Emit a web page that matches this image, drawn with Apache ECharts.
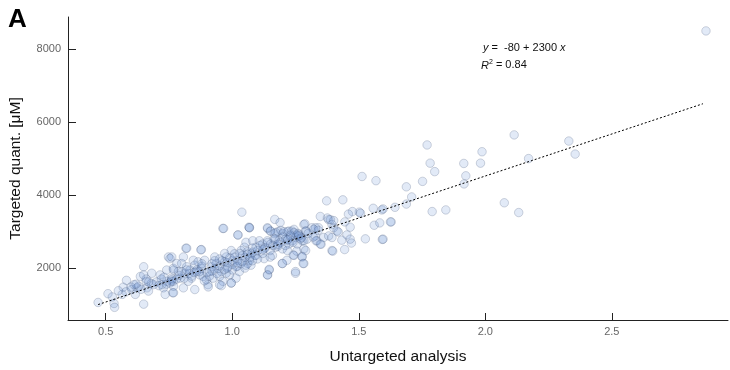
<!DOCTYPE html>
<html>
<head>
<meta charset="utf-8">
<script src="https://cdn.jsdelivr.net/npm/echarts@6/dist/echarts.min.js"></script>
<style>
  html, body { margin: 0; padding: 0; background: #fff; }
  #chart { width: 730px; height: 370px; }
</style>
</head>
<body>
<div id="chart"></div>
<script>
// untargeted analysis (x) vs targeted quant. in uM (y)
const untargeted = [
  0.470, 0.509, 0.533, 0.535, 0.526, 0.650, 0.565, 0.569, 0.582, 0.603, 0.612, 0.617, 0.624, 0.630,
  0.650, 0.637, 0.650, 0.660, 0.663, 0.669, 0.682, 0.689, 0.715, 0.722, 0.728, 0.735, 0.741, 0.748,
  0.754, 0.761, 0.767, 0.767, 0.741, 0.765, 0.817, 0.878, 0.761, 0.781, 0.768, 0.761, 0.754, 0.768,
  0.807, 0.800, 0.820, 0.813, 0.833, 0.846, 0.852, 0.839, 0.859, 0.872, 0.878, 0.885, 0.898, 0.911,
  0.918, 0.931, 0.937, 0.944, 0.950, 0.957, 0.963, 0.970, 0.976, 0.983, 0.989, 0.996, 1.002, 1.009,
  1.015, 1.022, 1.028, 1.035, 1.041, 1.048, 1.054, 1.061, 1.068, 1.074, 1.081, 1.054, 0.904, 0.950,
  0.996, 0.852, 0.807, 0.768, 0.787, 0.794, 0.826, 0.865, 0.891, 0.924, 0.976, 1.015, 1.035, 1.074,
  0.963, 1.023, 1.068, 1.038, 0.966, 1.066, 1.022, 1.168, 1.189, 1.140, 1.150, 1.166, 1.181, 1.200,
  1.218, 1.236, 0.876, 0.820, 1.068, 1.139, 1.152, 1.172, 1.192, 1.204, 1.224, 1.244, 1.263, 1.283,
  1.289, 1.315, 1.341, 1.381, 1.394, 1.400, 1.081, 1.094, 1.107, 1.120, 1.126, 1.139, 1.152, 1.165,
  1.172, 1.185, 1.198, 1.211, 1.224, 1.237, 1.250, 1.263, 1.276, 1.283, 1.296, 1.328, 1.335, 1.348,
  1.361, 1.381, 1.394, 1.094, 1.126, 1.159, 1.198, 1.244, 1.276, 1.283, 1.146, 1.139, 1.250, 1.394,
  1.140, 1.146, 1.198, 0.905, 0.957, 0.996,
  1.513, 1.568, 1.373, 1.437, 1.348, 1.557, 1.591, 1.502, 1.507, 1.475, 1.459, 1.561, 1.583, 1.625,
  1.526, 1.593, 1.376, 1.388, 1.401, 1.445, 1.466, 1.453, 1.466, 1.471, 1.433, 1.444, 1.397, 1.414,
  1.419, 1.351, 1.331, 1.329, 1.322, 1.340, 1.287, 1.292, 1.283, 1.273, 1.264, 1.255, 1.244, 1.231,
  1.218, 1.257, 1.255, 1.290, 1.241, 1.276, 1.280, 1.250, 1.218, 1.216,
  1.770, 2.114, 2.330, 2.355, 1.987, 1.981, 1.915, 1.923, 1.916, 2.171, 1.782, 1.800, 1.752, 1.688,
  1.709, 1.688, 1.643, 1.790, 1.844, 2.075, 2.132, 1.628, 1.596, 1.596, 2.872,
  0.86, 0.88, 0.90, 0.92, 0.93, 0.95, 0.96, 0.97, 0.98, 0.99, 1.00, 1.01, 1.02, 1.03, 1.04, 1.05,
  1.06, 1.07, 1.08, 1.09, 1.10, 1.11, 1.12, 1.13, 1.14, 1.15, 1.16, 1.17, 1.18, 1.19, 1.20, 1.21,
  1.22, 1.23, 1.24, 1.26, 1.27, 1.30, 1.32, 0.79, 0.81, 0.83, 0.84, 0.70, 0.72, 0.74, 0.68, 0.66,
  0.89, 0.91, 0.94, 0.87, 1.00, 1.05, 1.10, 1.15, 0.58, 0.60, 0.64, 0.55,
  0.73, 0.76, 0.78, 0.80, 0.82, 0.85, 0.88, 0.92, 0.95, 0.98, 1.02, 1.06, 1.08, 1.12, 1.18, 0.62,
  0.67, 0.71, 0.93, 0.97
];
const targeted = [
  1059, 1299, 1032, 925, 1211, 1013, 1280, 1477, 1664, 1413, 1547, 1280, 1459, 1504,
  2037, 1771, 1813, 1637, 1459, 1371, 1859, 1547, 1813, 1547, 1459, 1280, 1637, 2304,
  2259, 1725, 1637, 1992, 1947, 1325, 2544, 2507, 2304, 2125, 1947, 1680, 1592, 1325,
  2304, 2125, 2037, 1859, 1947, 2213, 2080, 1725, 1904, 1813, 1992, 1771, 1680, 1904,
  2037, 2304, 2125, 1992, 1771, 1904, 1637, 2171, 2304, 2037, 1813, 2480, 2213, 2392,
  2037, 2213, 1904, 2480, 2347, 2571, 2704, 2125, 2213, 2392, 2437, 2080, 1547, 1547,
  1592, 1413, 1459, 1504, 1904, 1725, 1637, 2171, 2213, 1725, 1859, 1725, 2125, 2080,
  3085, 2907, 3104, 3531, 3085, 3120, 2907, 3333, 3245, 3085, 3013, 2944, 2997, 2944,
  2997, 3013, 2499, 2544, 3104, 3104, 3013, 2971, 3032, 2997, 3013, 3059, 2925, 3192,
  3013, 3104, 3104, 3325, 3192, 3104, 2747, 2571, 2747, 2659, 2525, 2747, 2659, 2792,
  2571, 2747, 2525, 2792, 2659, 2747, 2837, 2880, 2747, 2525, 2792, 2880, 2747, 2659,
  2837, 2880, 2837, 2347, 2259, 2347, 2125, 2347, 2304, 2125, 1947, 1813, 1859, 2480,
  1813, 1965, 2125, 1485, 1520, 1592,
  4507, 4392, 3840, 3867, 3413, 3637, 3592, 3531, 3500, 3547, 3477, 3173, 3237, 3264,
  2800, 2784, 3371, 3325, 3299, 3264, 3120, 2907, 2792, 2685, 2765, 2507, 2464, 3013,
  2987, 2651, 2747, 3104, 3059, 3032, 3211, 3013, 2747, 2837, 2880, 2899, 2971, 2853,
  2765, 2659, 2464, 2480, 2357, 2320, 2125, 1904, 2480, 2213,
  5370, 5645, 5477, 5120, 5184, 4872, 4864, 4525, 4304, 4997, 4872, 4640, 4373, 4224,
  3947, 3752, 3664, 3547, 3592, 3787, 3520, 3264, 2792, 3619, 8491,
  1950, 2050, 1880, 2120, 1980, 2060, 2200, 1960, 2150, 2280, 2100, 2300, 2050, 2400, 2180, 2290,
  2450, 2300, 2550, 2350, 2480, 2620, 2400, 2560, 2700, 2480, 2620, 2800, 2600, 2700, 2850, 2620,
  2780, 2900, 2700, 2950, 2800, 2950, 2850, 1800, 1720, 1850, 1780, 1620, 1700, 1560, 1580, 1700,
  1650, 1780, 1850, 1900, 1950, 2000, 2250, 2300, 1350, 1480, 1420, 1380,
  1750, 1640, 1700, 1900, 1950, 1880, 2120, 1920, 2250, 2000, 2150, 2380, 2200, 2500, 2650, 1560,
  1620, 1520, 2200, 2400
];

// linear fit shown on the figure
const fitIntercept = -80;
const fitSlope = 2300;
const fitRange = [0.47, 2.86];
const xTicks = [0.5, 1.0, 1.5, 2.0, 2.5];
const yTicks = [2000, 4000, 6000, 8000];

const points = untargeted.map((x, i) => [x, targeted[i]]);
const fitLine = fitRange.map(x => [x, fitIntercept + fitSlope * x]);

let myChart = echarts.init(document.getElementById('chart'));
let option = {
    animation: false,
    backgroundColor: '#fff',
    grid: { left: 62, right: 2, top: 17, bottom: 42 },
    xAxis: {
        type: 'value',
        min: 0.351,
        max: 2.959,
        name: 'Untargeted analysis',
        nameLocation: 'middle',
        nameGap: 29,
        nameTextStyle: { color: '#111', fontSize: 15.5, fontFamily: 'Liberation Sans' },
        axisLine: { show: true, lineStyle: { color: '#222', width: 1 } },
        axisTick: { show: true, inside: true, length: 7, lineStyle: { color: '#222', width: 1 }, customValues: xTicks },
        axisLabel: {
            color: '#666', fontSize: 11, fontFamily: 'Liberation Sans', margin: 6,
            customValues: xTicks,
            formatter: v => v.toFixed(1)
        },
        splitLine: { show: false }
    },
    yAxis: {
        type: 'value',
        min: 579,
        max: 8872,
        name: 'Targeted quant. [μM]',
        nameLocation: 'middle',
        nameGap: 44,
        nameTextStyle: { color: '#111', fontSize: 15.5, fontFamily: 'Liberation Sans' },
        axisLine: { show: true, lineStyle: { color: '#222', width: 1 } },
        axisTick: { show: true, inside: true, length: 8, lineStyle: { color: '#222', width: 1 }, customValues: yTicks },
        axisLabel: {
            color: '#666', fontSize: 11, fontFamily: 'Liberation Sans', margin: 7,
            customValues: yTicks,
            formatter: v => String(v)
        },
        splitLine: { show: false }
    },
    graphic: [
        {
            type: 'text', left: 8, top: 7,
            style: { text: 'A', fontSize: 26, fontWeight: 'bold', fill: '#000', fontFamily: 'Liberation Sans' }
        },
        {
            type: 'text', left: 483, top: 42,
            style: {
                text: '{i|y} =  -80 + 2300 {i|x}',
                fontSize: 11, fill: '#111', fontFamily: 'Liberation Sans',
                rich: { i: { fontStyle: 'italic', fontSize: 11, fontFamily: 'Liberation Sans' } }
            }
        },
        {
            type: 'text', left: 481, top: 59,
            style: {
                text: '{i|R}{s|2} = 0.84',
                fontSize: 11, fill: '#111', fontFamily: 'Liberation Sans',
                rich: {
                    i: { fontStyle: 'italic', fontSize: 11, fontFamily: 'Liberation Sans', verticalAlign: 'bottom' },
                    s: { fontSize: 7, fontFamily: 'Liberation Sans', verticalAlign: 'top', padding: [0, 0, 5, 0] }
                }
            }
        }
    ],
    series: [
        {
            type: 'scatter',
            data: points,
            symbolSize: 8.5,
            itemStyle: {
                color: 'rgba(110,150,215,0.25)',
                borderColor: 'rgba(70,85,120,0.3)',
                borderWidth: 1
            },
            z: 2
        },
        {
            type: 'line',
            data: fitLine,
            symbol: 'none',
            lineStyle: { color: '#000', width: 1, type: [2, 2] },
            z: 3
        }
    ]
};
myChart.setOption(option);
</script>
</body>
</html>
